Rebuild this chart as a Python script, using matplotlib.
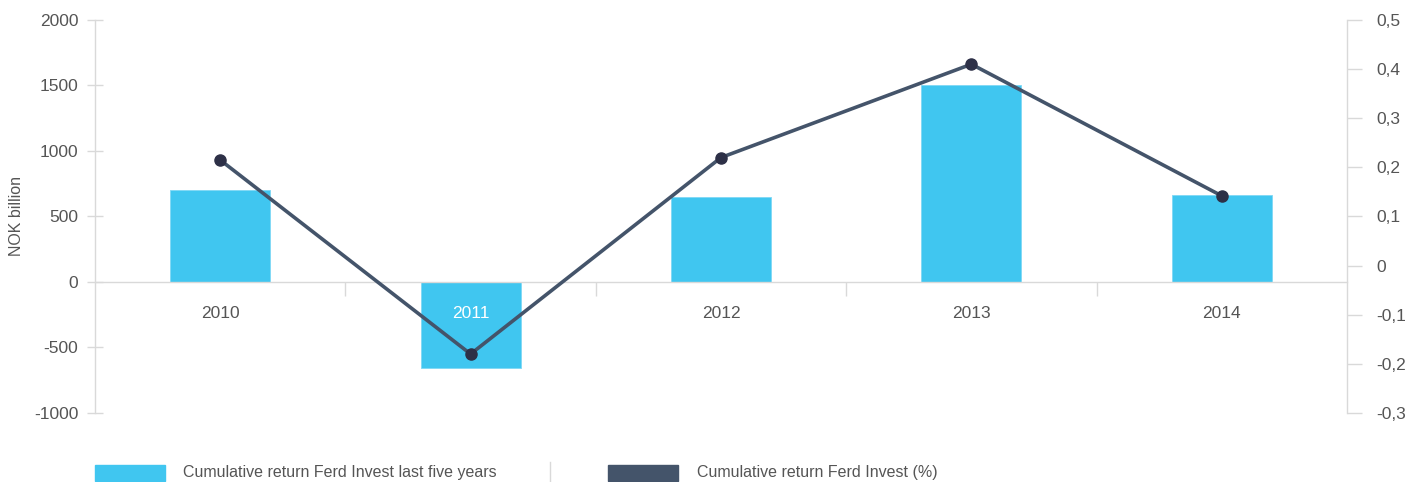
import matplotlib.pyplot as plt
from matplotlib.patches import Rectangle
from matplotlib.lines import Line2D
from matplotlib.ticker import FuncFormatter

plt.rcParams["font.family"] = ["Liberation Sans", "DejaVu Sans"]
plt.rcParams["axes.unicode_minus"] = False

# ===================== Data =====================
years = ["2010", "2011", "2012", "2013", "2014"]
return_nok = [700, -660, 650, 1500, 665]          # NOK billion
return_pct = [0.215, -0.18, 0.22, 0.41, 0.142]      # percent

bar_color = "#40c6f0"
line_color = "#44546a"
dot_color = "#2d3047"
text_color = "#555555"
grid_color = "#d9d9d9"
fs = 12.5

# ===================== Plot =====================
fig = plt.figure(figsize=(14.14, 4.82), dpi=100)
ax1 = fig.add_axes([0.0672, 0.1432, 0.8854, 0.8153])
ax2 = ax1.twinx()

x = list(range(len(years)))
ax1.bar(x, return_nok, width=0.4, color=bar_color, edgecolor="#7fd8f5",
        linewidth=0.6, zorder=1)
ax1.set_xlim(-0.5, len(years) - 0.5)
ax1.set_ylim(-1000, 2000)
ax1.set_yticks(range(-1000, 2001, 500))

# x axis drawn at zero, ticks at category boundaries
ax1.spines["bottom"].set_position(("data", 0))
ax1.set_xticks([i + 0.5 for i in x[:-1]])
ax1.set_xticklabels([])
ax1.tick_params(axis="x", which="major", direction="out", length=10,
                color=grid_color, width=1)
ax1.set_xticks(x, minor=True)
ax1.set_xticklabels(years, minor=True)
ax1.tick_params(axis="x", which="minor", length=0, pad=17,
                labelsize=fs, labelcolor=text_color)
ax1.get_xticklabels(minor=True)[1].set_color("white")

ax1.tick_params(axis="y", direction="inout", length=12, width=1,
                color=grid_color, labelsize=fs, labelcolor=text_color, pad=6)
ax1.set_ylabel("NOK billion", fontsize=11.5, color=text_color)
ax1.yaxis.set_label_coords((24 - 95) / 1252, 0.5)

for s in ["top", "right"]:
    ax1.spines[s].set_visible(False)
for s in ["left", "bottom"]:
    ax1.spines[s].set_color(grid_color)
    ax1.spines[s].set_linewidth(1)

# Percent line
ax2.plot(x, return_pct, color=line_color, lw=2.6, zorder=3)
ax2.plot(x, return_pct, "o", color=dot_color, ms=8, zorder=4)
ax2.set_ylim(-0.3, 0.5)
ax2.set_yticks([-0.3, -0.2, -0.1, 0, 0.1, 0.2, 0.3, 0.4, 0.5])
ax2.yaxis.set_major_formatter(
    FuncFormatter(lambda v, p: "0" if abs(v) < 1e-9 else f"{v:.1f}".replace(".", ",")))
ax2.tick_params(axis="y", direction="out", length=11, width=1,
                color=grid_color, labelsize=fs, labelcolor=text_color, pad=10)
for s in ["top", "left", "bottom"]:
    ax2.spines[s].set_visible(False)
ax2.spines["right"].set_color(grid_color)
ax2.spines["right"].set_linewidth(1)

# Legend
W, H = 1414, 482
def px_x(px):
    return px / W

def px_y(py):
    return 1 - py / H

fig.patches.append(Rectangle((px_x(95), px_y(481)), px_x(70), 16 / H,
                             transform=fig.transFigure, color=bar_color))
fig.text(px_x(183), px_y(473), "Cumulative return Ferd Invest last five years",
         fontsize=11.5, color=text_color, va="center", ha="left")
fig.lines.append(Line2D([px_x(550), px_x(550)], [px_y(462), px_y(482)],
                        transform=fig.transFigure, color=grid_color, lw=1))
fig.patches.append(Rectangle((px_x(608), px_y(481)), px_x(70), 16 / H,
                             transform=fig.transFigure, color=line_color))
fig.text(px_x(697), px_y(473), "Cumulative return Ferd Invest (%)",
         fontsize=11.5, color=text_color, va="center", ha="left")

fig.savefig("out.png", dpi=100)
